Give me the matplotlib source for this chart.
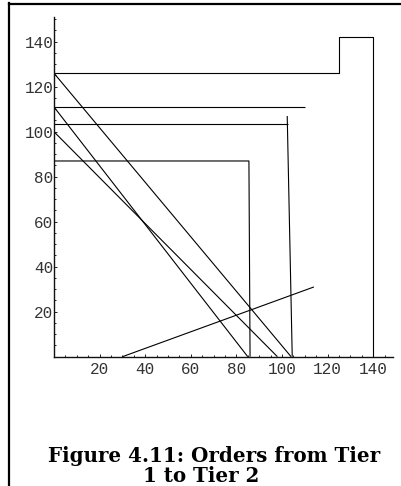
import matplotlib
matplotlib.use("Agg")
import matplotlib.pyplot as plt
from matplotlib.lines import Line2D
from matplotlib.ticker import MultipleLocator, FixedLocator

# Order trajectories (x, y) from Tier 1 to Tier 2
stair_x = [0, 125, 125, 140, 140]
stair_y = [126, 126, 142, 142, 0]

level_111_x = [0, 110]
level_111_y = [111, 111]

level_103_x = [0, 102.5]
level_103_y = [103.5, 103.5]
drop_103_x = [102.3, 104.5]
drop_103_y = [107, 0]

level_87_x = [0, 85.5, 86]
level_87_y = [87, 87, 0]

diag_a_x = [0, 104]
diag_a_y = [126, 0]
diag_b_x = [0, 85]
diag_b_y = [111, 0]
diag_c_x = [0, 98]
diag_c_y = [100, 0]

rise_x = [30, 114]
rise_y = [0, 31]

major_ticks = [20, 40, 60, 80, 100, 120, 140]
tick_labels = [str(t) for t in major_ticks]

W, H = 401, 486
fig = plt.figure(figsize=(W / 100, H / 100), dpi=100)

# axes placed in pixel units
x0_px, x1_px = 54, 393
y0_px, y1_px = 356.7, 17
ax = fig.add_axes([x0_px / W, (H - y0_px) / H, (x1_px - x0_px) / W, (y0_px - y1_px) / H])
ax.set_xlim(0, 148.7)
ax.set_ylim(0, 151)

line_kw = dict(color="black", lw=0.8, solid_capstyle="butt")
for xs, ys in [(stair_x, stair_y), (level_111_x, level_111_y),
               (level_103_x, level_103_y), (drop_103_x, drop_103_y),
               (level_87_x, level_87_y), (diag_a_x, diag_a_y),
               (diag_b_x, diag_b_y), (diag_c_x, diag_c_y), (rise_x, rise_y)]:
    ax.plot(xs, ys, **line_kw)

for side in ("top", "right"):
    ax.spines[side].set_visible(False)
for side in ("left", "bottom"):
    ax.spines[side].set_linewidth(1.0)
    ax.spines[side].set_color("#111111")

ax.xaxis.set_major_locator(FixedLocator(major_ticks))
ax.yaxis.set_major_locator(FixedLocator(major_ticks))
ax.set_xticklabels(tick_labels)
ax.set_yticklabels(tick_labels)
ax.xaxis.set_minor_locator(MultipleLocator(5))
ax.yaxis.set_minor_locator(MultipleLocator(5))

mono = "Liberation Mono"
ax.tick_params(axis="both", which="major", direction="in", length=2.4, width=0.7,
               color="#222222", labelsize=11.5, labelcolor="#333333")
ax.tick_params(axis="both", which="minor", direction="in", length=1.5, width=0.7,
               color="#222222")
ax.tick_params(axis="x", which="major", pad=4)
ax.tick_params(axis="y", which="major", pad=0.5)
for lab in ax.get_xticklabels() + ax.get_yticklabels():
    lab.set_fontfamily(mono)

# page frame on the left and top
fig.add_artist(Line2D([9.3 / W, 9.3 / W], [0, 1 - 3 / H], transform=fig.transFigure,
                      color="black", lw=1.6))
fig.add_artist(Line2D([8.5 / W, 1], [1 - 3.8 / H, 1 - 3.8 / H], transform=fig.transFigure,
                      color="black", lw=1.6))

cap_kw = dict(fontfamily="DejaVu Serif", fontweight="bold", fontsize=14.3,
              color="black", ha="left", va="baseline")
fig.text(48 / W, 1 - 461.7 / H, "Figure 4.11: Orders from Tier", **cap_kw)
fig.text(143 / W, 1 - 481.7 / H, "1 to Tier 2", **cap_kw)

fig.savefig("out.png", dpi=100)
